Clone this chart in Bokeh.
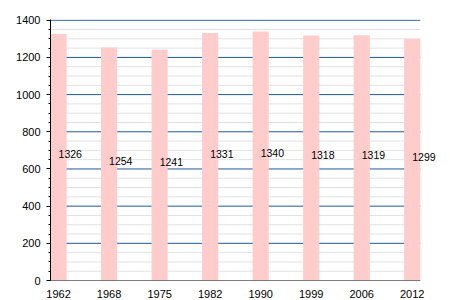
from bokeh.plotting import figure
from bokeh.models import Range1d, FixedTicker, SingleIntervalTicker, ColumnDataSource
from bokeh.core.properties import value
from bokeh.embed import file_html
from bokeh.resources import INLINE

years = ["1962", "1968", "1975", "1982", "1990", "1999", "2006", "2012"]
population = [1326, 1254, 1241, 1331, 1340, 1318, 1319, 1299]

xs = list(range(len(years)))
half = 0.16
x_lo, x_hi = -half, len(years) - 1 + half
src = ColumnDataSource(dict(x=xs, top=population,
                            ymid=[v / 2 for v in population],
                            label=[str(v) for v in population]))

p = figure(width=450, height=300, output_backend="svg", toolbar_location=None,
           x_range=Range1d(x_lo, 7.5), y_range=Range1d(0, 1404),
           min_border_left=50, min_border_right=13, min_border_top=19, min_border_bottom=20)
p.outline_line_color = None
p.background_fill_color = "white"
p.xgrid.grid_line_color = None
p.ygrid.grid_line_color = None

minor_y = [v for v in range(0, 1401, 50) if v % 200 != 0]
major_y = [v for v in range(200, 1401, 200)]
p.segment(x0=[x_lo] * len(minor_y), x1=[x_hi] * len(minor_y), y0=minor_y, y1=minor_y,
          line_color="#e2e2e2", line_width=1)
p.segment(x0=[x_lo] * len(major_y), x1=[x_hi] * len(major_y), y0=major_y, y1=major_y,
          line_color="#1a5a9a", line_width=1)

p.vbar(x="x", top="top", width=2 * half, bottom=0, source=src,
       fill_color="#ffcccc", line_color=None)
p.segment(x0=[x_lo], x1=[x_hi], y0=[0], y1=[0], line_color="black", line_width=1.2)
p.text(x="x", y="ymid", text="label", source=src, text_align="left",
       text_baseline="middle", y_offset=-3, text_font_size="10.5px",
       text_font=value("Liberation Sans"), text_color="black")

p.yaxis.ticker = SingleIntervalTicker(interval=200, num_minor_ticks=4)
p.yaxis.major_tick_in = 0
p.yaxis.major_tick_out = 4
p.yaxis.minor_tick_in = 0
p.yaxis.minor_tick_out = 2
p.yaxis.axis_line_color = "black"
p.xaxis.ticker = FixedTicker(ticks=xs)
p.xaxis.major_label_overrides = {i: y for i, y in enumerate(years)}
p.xaxis.major_tick_line_color = None
p.xaxis.minor_tick_line_color = None
p.xaxis.axis_line_color = None
for ax in (p.xaxis[0], p.yaxis[0]):
    ax.major_label_text_font = "Liberation Sans"
    ax.major_label_text_font_size = "11px"
    ax.major_label_text_color = "black"
p.yaxis.major_label_standoff = 6
p.xaxis.major_label_standoff = 3

open("out.html", "w").write(file_html(p, INLINE))
